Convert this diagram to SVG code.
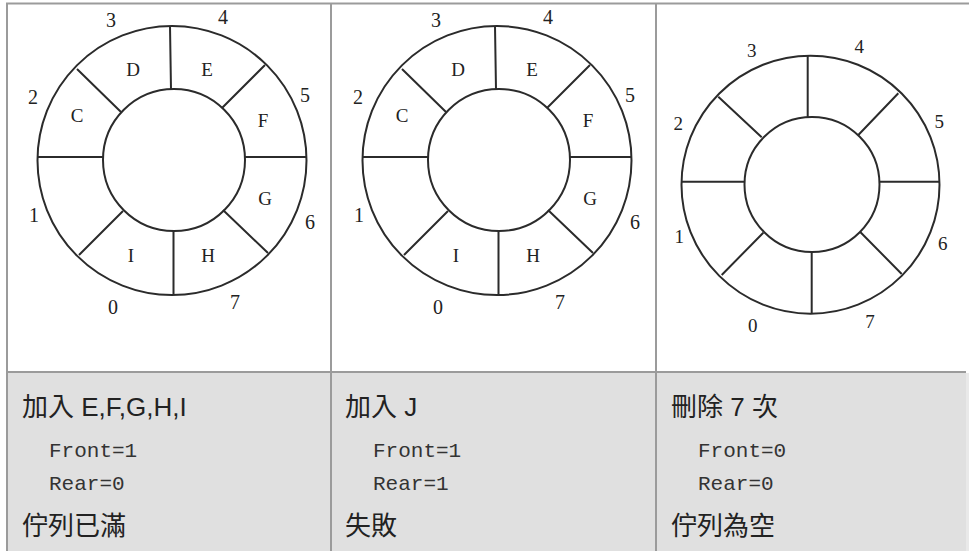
<svg xmlns="http://www.w3.org/2000/svg" width="969" height="551" viewBox="0 0 969 551">
<style>
.grid{stroke:#9b9b9b;stroke-width:2;fill:none}
.ring{stroke:#2b2b2b;stroke-width:2;fill:none}
.num{font-family:"Liberation Serif","Times New Roman",serif;font-size:20px;fill:#222;text-anchor:middle}
.num3{font-family:"Liberation Serif","Times New Roman",serif;font-size:19px;fill:#222;text-anchor:middle}
.let{font-family:"Liberation Serif","Times New Roman",serif;font-size:19px;fill:#222;text-anchor:middle}
.cap{font-family:"Liberation Sans","Noto Sans CJK TC",sans-serif;font-size:26px;fill:#222}
.mono{font-family:"Liberation Mono","Courier New",monospace;font-size:21px;fill:#333}
</style>
<rect x="0" y="0" width="969" height="551" fill="#ffffff"/>
<rect x="7" y="372" width="959" height="179" fill="#e0e0e0"/>
<rect x="966" y="373" width="3" height="178" fill="#e9e9e9"/>
<g id="table">
<line class="grid" x1="6" y1="3.5" x2="969" y2="3.5"/>
<line class="grid" x1="7" y1="3" x2="7" y2="551"/>
<line class="grid" x1="331" y1="3" x2="331" y2="551"/>
<line class="grid" x1="656" y1="3" x2="656" y2="551"/>
<line class="grid" x1="6" y1="372" x2="966" y2="372"/>
</g>
<g id="ring1">
<circle class="ring" cx="172" cy="160.5" r="134.5"/>
<circle class="ring" cx="174" cy="160" r="71"/>
<path class="ring" d="M170,26 L171,90 M173.5,230 L173.5,295 M38,157 L103,157 M245,157 L307,157 M77,69 L121,112 M265,65 L222,108 M223,210 L268,253 M123,211 L79,255"/>
<text class="num" x="111" y="27">3</text>
<text class="num" x="223" y="24">4</text>
<text class="num" x="33" y="104">2</text>
<text class="num" x="305" y="102">5</text>
<text class="num" x="34" y="222">1</text>
<text class="num" x="310" y="229">6</text>
<text class="num" x="113" y="314">0</text>
<text class="num" x="235" y="309">7</text>
<text class="let" x="133" y="76">D</text>
<text class="let" x="207" y="76">E</text>
<text class="let" x="77" y="122">C</text>
<text class="let" x="263" y="127">F</text>
<text class="let" x="265" y="205">G</text>
<text class="let" x="208" y="262">H</text>
<text class="let" x="131" y="262">I</text>
</g>
<g id="ring2" transform="translate(325,0)">
<circle class="ring" cx="172" cy="160.5" r="134.5"/>
<circle class="ring" cx="174" cy="160" r="71"/>
<path class="ring" d="M170,26 L171,90 M173.5,230 L173.5,295 M38,157 L103,157 M245,157 L307,157 M77,69 L121,112 M265,65 L222,108 M223,210 L268,253 M123,211 L79,255"/>
<text class="num" x="111" y="27">3</text>
<text class="num" x="223" y="24">4</text>
<text class="num" x="33" y="104">2</text>
<text class="num" x="305" y="102">5</text>
<text class="num" x="34" y="222">1</text>
<text class="num" x="310" y="229">6</text>
<text class="num" x="113" y="314">0</text>
<text class="num" x="235" y="309">7</text>
<text class="let" x="133" y="76">D</text>
<text class="let" x="207" y="76">E</text>
<text class="let" x="77" y="122">C</text>
<text class="let" x="263" y="127">F</text>
<text class="let" x="265" y="205">G</text>
<text class="let" x="208" y="262">H</text>
<text class="let" x="131" y="262">I</text>
</g>
<g id="ring3">
<circle class="ring" cx="810.5" cy="184.7" r="129"/>
<circle class="ring" cx="812" cy="184.5" r="67.5"/>
<path class="ring" d="M807.7,55.7 L807.7,117 M811.7,252 L811.7,313.7 M681.5,181.7 L744.5,181.7 M879.5,181.7 L939.5,181.7 M718.3,96.7 L761.7,137.3 M898.3,93.3 L858.3,135 M860,231.7 L901.7,274 M763.3,232.7 L721.7,275"/>
<text class="num3" x="751.7" y="56.5">3</text>
<text class="num3" x="859.3" y="53">4</text>
<text class="num3" x="678.3" y="130">2</text>
<text class="num3" x="939.3" y="128">5</text>
<text class="num3" x="679.3" y="243">1</text>
<text class="num3" x="942.7" y="250">6</text>
<text class="num3" x="752.7" y="331.5">0</text>
<text class="num3" x="870" y="328">7</text>
</g>
<g id="caption1">
<text class="cap" x="22" y="416">加入 E,F,G,H,I</text>
<text class="mono" x="49" y="457">Front=1</text>
<text class="mono" x="49" y="490">Rear=0</text>
<text class="cap" x="22" y="535">佇列已滿</text>
</g>
<g id="caption2">
<text class="cap" x="345" y="416">加入 J</text>
<text class="mono" x="373" y="457">Front=1</text>
<text class="mono" x="373" y="490">Rear=1</text>
<text class="cap" x="345" y="535">失敗</text>
</g>
<g id="caption3">
<text class="cap" x="671" y="416">刪除 7 次</text>
<text class="mono" x="698" y="457">Front=0</text>
<text class="mono" x="698" y="490">Rear=0</text>
<text class="cap" x="671" y="535">佇列為空</text>
</g>
</svg>
